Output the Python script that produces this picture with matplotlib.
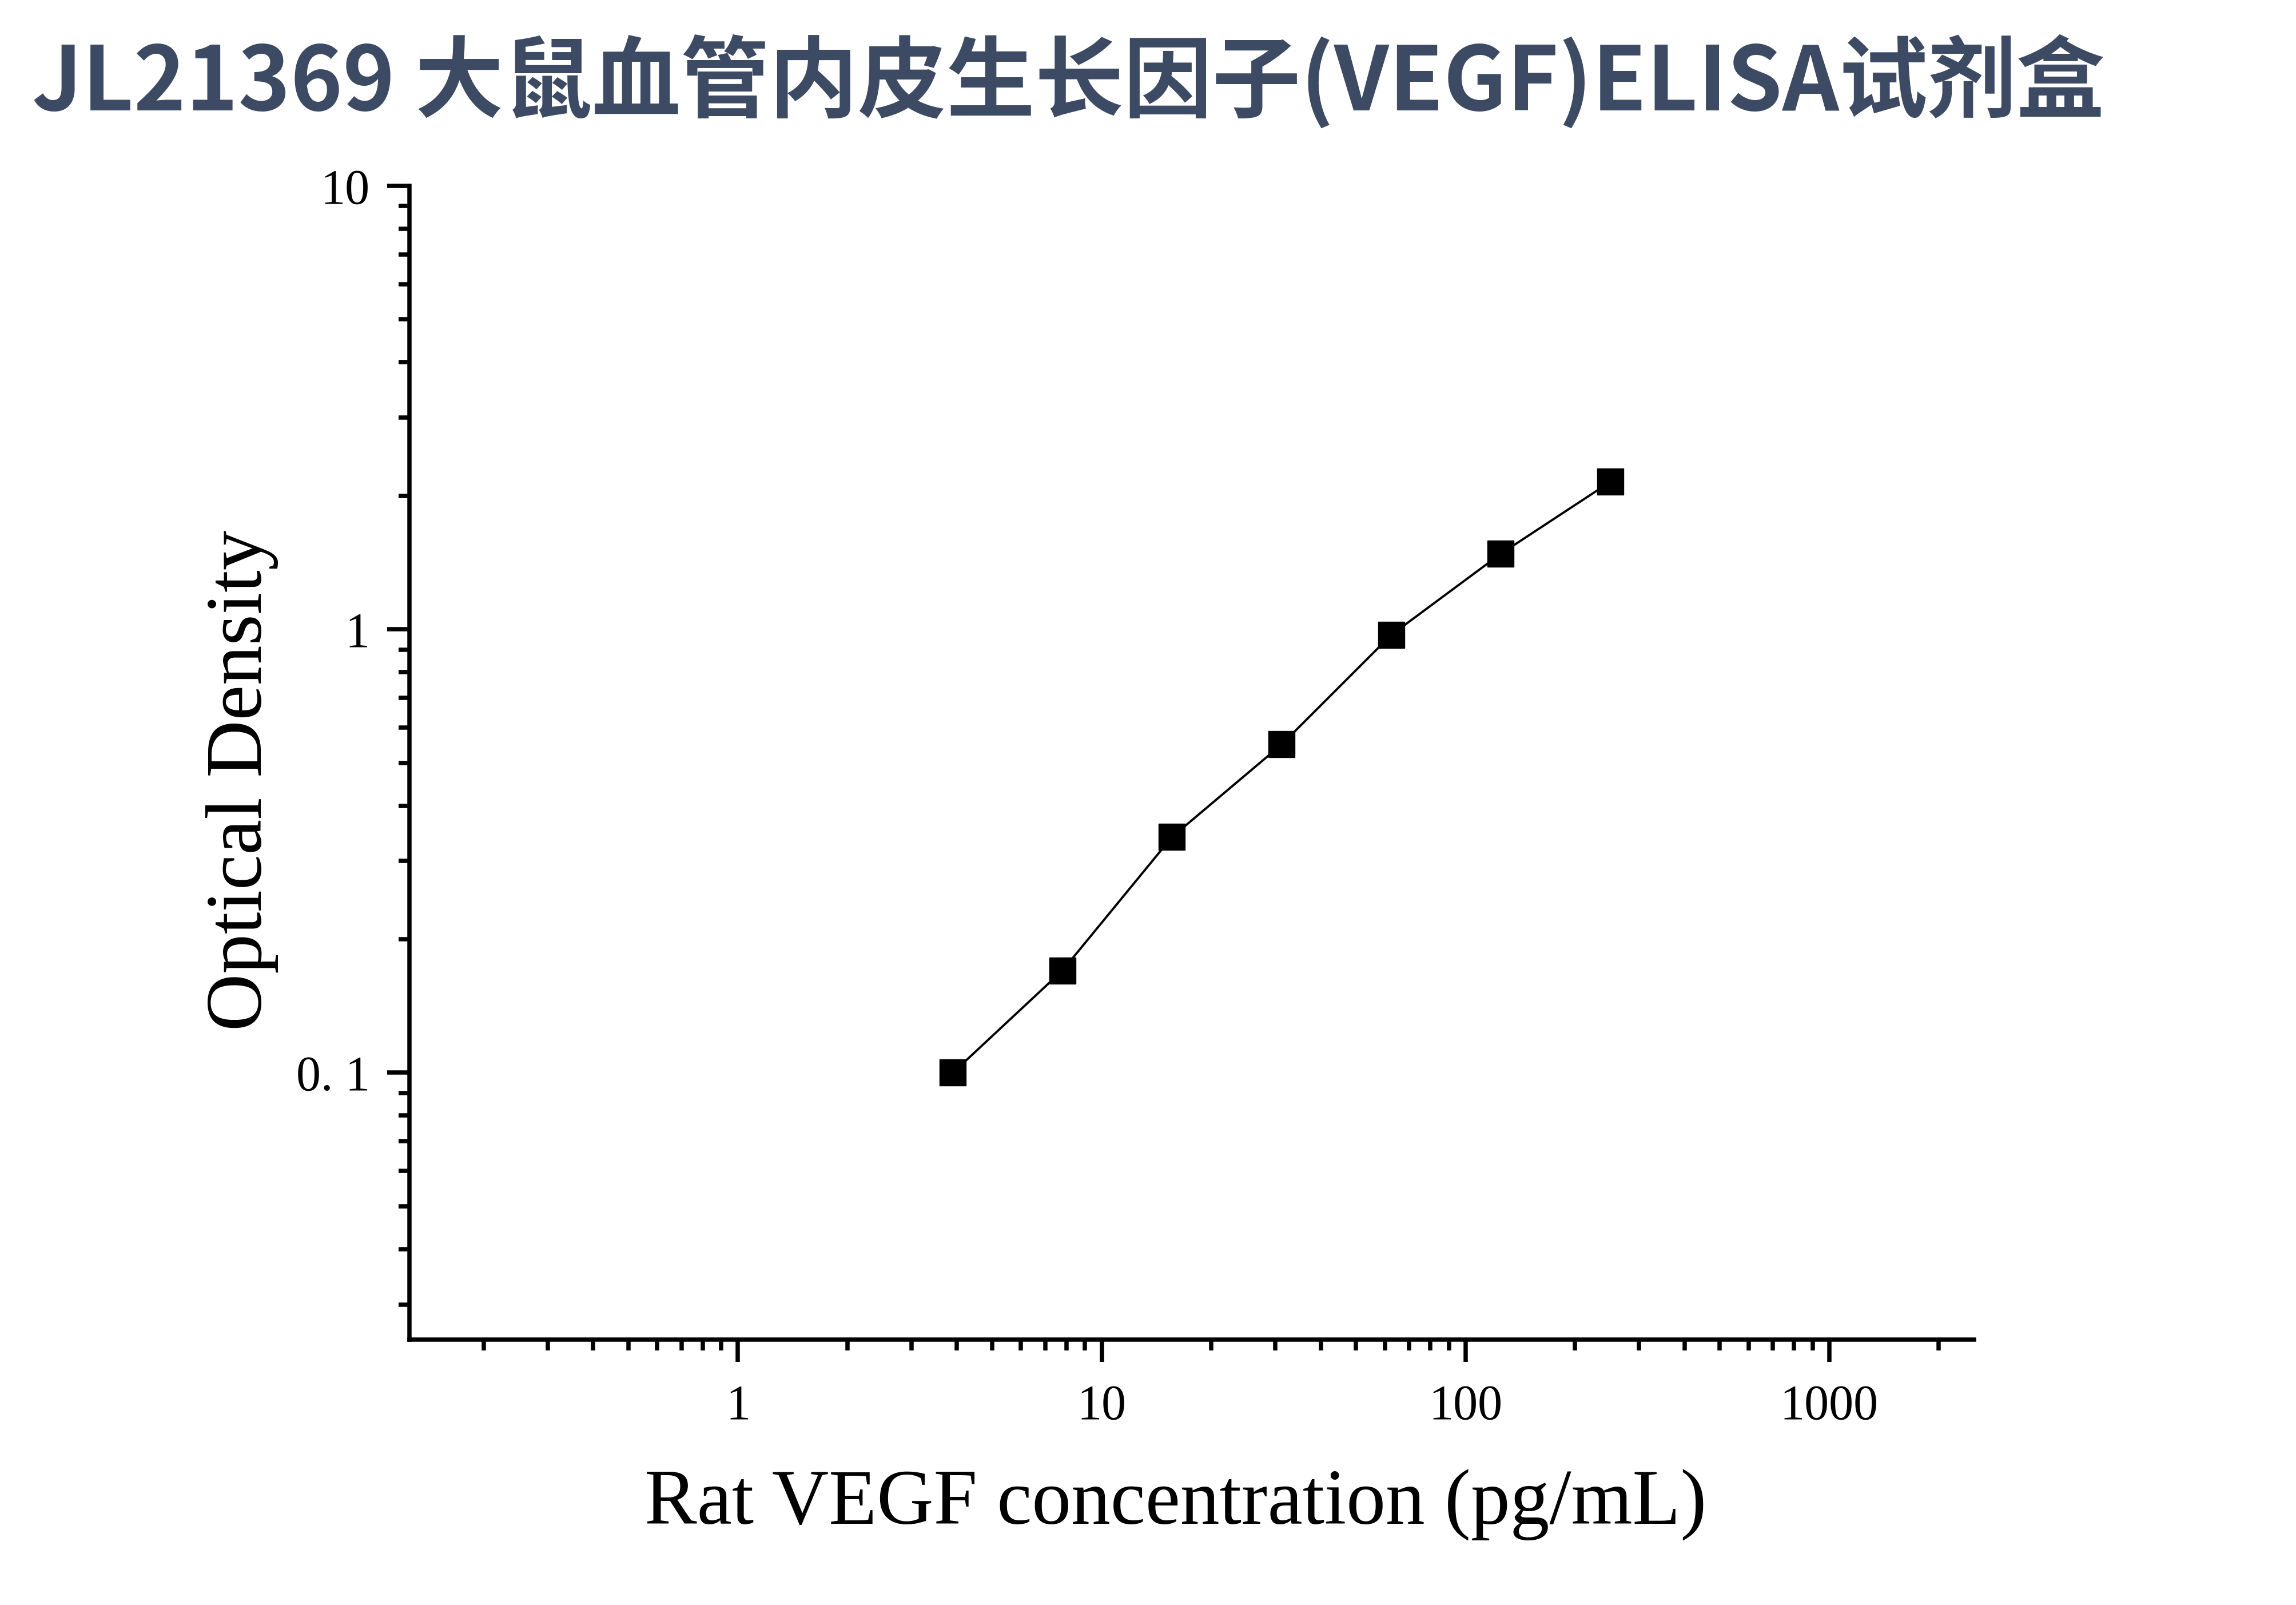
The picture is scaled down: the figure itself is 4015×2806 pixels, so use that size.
import numpy as np
import matplotlib
matplotlib.use("Agg")
import matplotlib.pyplot as plt
from matplotlib.ticker import LogLocator, FixedLocator, FixedFormatter, NullFormatter

# ---- data ----
concentration = [3.9, 7.8, 15.6, 31.25, 62.5, 125, 250]
od_values = [0.100, 0.170, 0.340, 0.550, 0.971, 1.48, 2.15]
x_tick_values = [1, 10, 100, 1000]
x_tick_labels = ["1", "10", "100", "1000"]
y_tick_values = [0.1, 1, 10]
y_tick_labels = ["0. 1", "1", "10"]
title_text = "JL21369 大鼠血管内皮生长因子(VEGF)ELISA试剂盒"
x_label = "Rat VEGF concentration (pg/mL)"
y_label = "Optical Density"

W, H = 4015, 2806
fig = plt.figure(figsize=(W / 100, H / 100), dpi=100)
fig.patch.set_facecolor("white")

ax = fig.add_axes([716 / W, 1 - 2342 / H, (3452 - 716) / W, (2342 - 325) / H])
ax.set_xscale("log")
ax.set_yscale("log")
ax.set_xlim(0.125, 2500)
ax.set_ylim(0.025, 10)

ax.plot(concentration, od_values, color="black", lw=2.8, zorder=2)
ax.plot(concentration, od_values, linestyle="none", marker="s", ms=33,
        color="black", zorder=3)

for s in ["top", "right"]:
    ax.spines[s].set_visible(False)
for s in ["left", "bottom"]:
    ax.spines[s].set_linewidth(5.4)
    ax.spines[s].set_color("black")

serif = ["Liberation Serif", "DejaVu Serif"]

ax.xaxis.set_major_locator(FixedLocator(x_tick_values))
ax.xaxis.set_major_formatter(FixedFormatter(x_tick_labels))
ax.xaxis.set_minor_locator(LogLocator(base=10, subs=np.arange(2, 10), numticks=20))
ax.xaxis.set_minor_formatter(NullFormatter())
ax.yaxis.set_major_locator(FixedLocator(y_tick_values))
ax.yaxis.set_major_formatter(FixedFormatter(y_tick_labels))
ax.yaxis.set_minor_locator(LogLocator(base=10, subs=np.arange(2, 10), numticks=20))
ax.yaxis.set_minor_formatter(NullFormatter())

ax.tick_params(axis="both", which="major", direction="out", length=28, width=5.4,
               color="black", labelsize=62)
ax.tick_params(axis="both", which="minor", direction="out", length=14, width=5.4,
               color="black")
ax.tick_params(axis="x", which="major", pad=28)
ax.tick_params(axis="y", which="major", pad=22)
for lab in ax.get_xticklabels() + ax.get_yticklabels():
    lab.set_fontfamily(serif)

ax.set_xlabel(x_label, fontsize=99, family=serif, labelpad=50)
ax.set_ylabel(y_label, fontsize=100, family=serif, labelpad=22)
ax.xaxis.label.set_x(0.4898)
ax.yaxis.label.set_y(0.4847)

fig.text(56 / W, 1 - 193 / H, title_text, fontsize=111.5, fontweight="bold",
         color="#3d4a63", family=["Noto Sans CJK SC", "DejaVu Sans"],
         ha="left", va="baseline")

fig.savefig("out.png", dpi=100, facecolor="white")
